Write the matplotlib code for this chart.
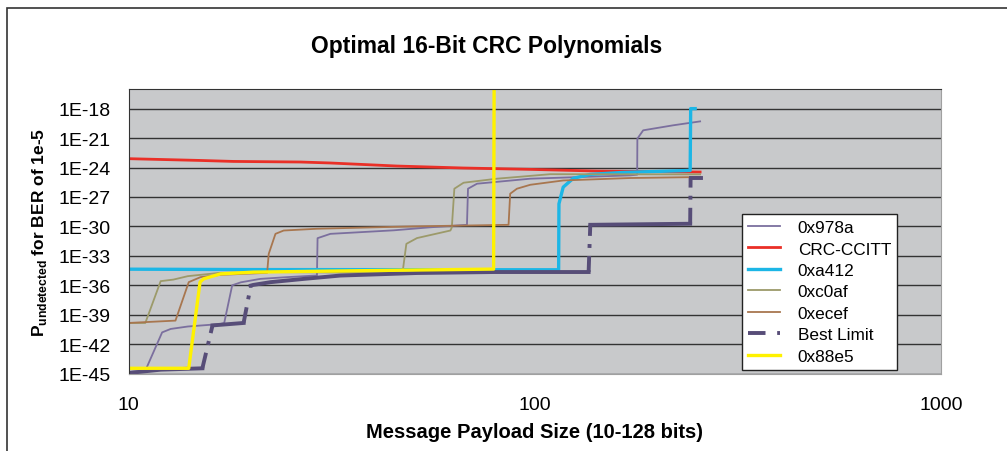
import numpy as np
import matplotlib
matplotlib.use("Agg")
import matplotlib.pyplot as plt
from matplotlib.lines import Line2D
from matplotlib.patches import Rectangle

plt.rcParams['font.family'] = ['Liberation Sans', 'DejaVu Sans']
plt.rcParams['mathtext.fontset'] = 'custom'
plt.rcParams['mathtext.rm'] = 'Liberation Sans'
plt.rcParams['mathtext.bf'] = 'Liberation Sans:bold'

# payload size (bits) and log10 of P_undetected
p978a_x = [10, 11.0, 12.1, 12.7, 14.0, 16.8, 17.2, 18.0, 18.9, 21.1, 24.6, 29.1, 29.2, 31.4,
           45, 55, 68.1, 68.5, 72.1, 97.5, 171.8, 178.7, 178.9, 184.9, 219.1, 255.3]
p978a_e = [-44.84, -44.7, -40.8, -40.45, -40.2, -39.95, -39.85, -36.0, -35.7, -35.35, -35.17, -35.0,
           -31.2, -30.76, -30.4, -30.1, -29.84, -26.16, -25.65, -25.14, -24.8, -24.73, -21.06,
           -20.21, -19.7, -19.3]

ccitt_x = [10, 15.0, 18.1, 26.5, 31.4, 45.8, 66.7, 97.5, 142.2, 255.3]
ccitt_e = [-23.1, -23.28, -23.38, -23.44, -23.54, -23.85, -24.05, -24.19, -24.36, -24.46]

a412_x = [10, 20, 114.5, 114.7, 117.5, 124.4, 137.0, 165.1, 241.3, 242.0, 248.2]
a412_e = [-34.36, -34.4, -34.42, -27.7, -26.0, -25.1, -24.7, -24.5, -24.3, -18.0, -18.0]

c0af_x = [10, 11.0, 12.0, 12.9, 14.0, 16.8, 21.9, 44.9, 47.4, 48.3, 51.3, 62.0, 62.5, 63.4,
          66.8, 80.7, 109.2, 255.3]
c0af_e = [-39.84, -39.84, -35.58, -35.42, -35.07, -34.73, -34.65, -34.75, -34.33, -31.78,
          -31.19, -30.42, -30.1, -26.16, -25.55, -25.14, -24.68, -24.7]

ecef_x = [10, 13.05, 14.07, 15.04, 16.84, 21.94, 22.14, 23.0, 24.1, 29.1, 50, 86.2, 87.0,
          90.4, 97.5, 117.5, 171.8, 255.3]
ecef_e = [-39.84, -39.6, -35.68, -35.17, -34.94, -34.73, -32.8, -30.76, -30.42, -30.24, -30.0,
          -29.84, -26.67, -26.16, -25.76, -25.32, -25.07, -24.97]

best_x = [10, 12.0, 15.2, 16.1, 19.2, 20.0, 20.3, 22.4, 27.0, 33.2, 51.3, 79.2, 135.7, 137.0,
          241.3, 241.9, 256.8]
best_e = [-44.94, -44.6, -44.46, -40.09, -39.84, -36.03, -35.96, -35.68, -35.35, -35.01,
          -34.75, -34.65, -34.65, -29.84, -29.73, -25.04, -25.04]

p88e5_x = [10, 14.07, 15.0, 15.3, 16.84, 20.3, 40, 79.2, 79.5]
p88e5_e = [-44.46, -44.46, -35.68, -35.35, -34.84, -34.66, -34.5, -34.35, -10]

ytick_exp = [-45, -42, -39, -36, -33, -30, -27, -24, -21, -18]
xticks = [10, 100, 1000]

fig = plt.figure(figsize=(10.07, 4.52), dpi=100)
ax = fig.add_axes([128.5 / 1007, 1 - 374.6 / 452, 812.5 / 1007, 284.6 / 452])
ax.set_facecolor('#c8c9cb')
ax.set_xscale('log')
ax.set_yscale('log')
ax.set_xlim(10, 1000)
ax.set_ylim(1e-45, 1e-16)

handles = []
series = [(p978a_x, p978a_e, '#7b6f9e', 1.3, '0x978a'),
          (ccitt_x, ccitt_e, '#ea2f27', 2.0, 'CRC-CCITT'),
          (a412_x, a412_e, '#1cb6e6', 2.4, '0xa412'),
          (c0af_x, c0af_e, '#9c9a6a', 1.3, '0xc0af'),
          (ecef_x, ecef_e, '#a8764f', 1.3, '0xecef')]
for xs, es, col, lw, lab in series:
    h, = ax.plot(xs, 10.0 ** np.array(es), color=col, lw=lw, label=lab)
    handles.append(h)

# Best limit: dashes show on the jumps only, like the original spreadsheet chart
best_col = '#574d78'
best_lw = 2.8
dash = (0, (4.1, 2.1, 1, 2.1))
bx = np.array(best_x)
be = np.array(best_e)
jump = np.abs(np.diff(be)) > 1.5
start = 0
for i in range(len(bx) - 1):
    if jump[i]:
        if i > start:
            ax.plot(bx[start:i + 1], 10.0 ** be[start:i + 1], color=best_col, lw=best_lw,
                    solid_capstyle='projecting')
        ax.plot(bx[i:i + 2], 10.0 ** be[i:i + 2], color=best_col, lw=best_lw,
                linestyle=dash, dash_capstyle='butt')
        start = i + 1
if start < len(bx) - 1:
    ax.plot(bx[start:], 10.0 ** be[start:], color=best_col, lw=best_lw,
            solid_capstyle='projecting')
handles.append(Line2D([], [], color=best_col, lw=best_lw, linestyle=(0, (4.5, 3.0, 1.3, 3.0)),
                      dash_capstyle='butt', label='Best Limit'))

h, = ax.plot(p88e5_x, 10.0 ** np.array(p88e5_e), color='#fff200', lw=2.4, label='0x88e5')
handles.append(h)

ax.set_yticks([10.0 ** e for e in ytick_exp])
ax.set_yticklabels(['1E%d' % e for e in ytick_exp])
ax.set_xticks(xticks)
ax.set_xticklabels([str(t) for t in xticks])
ax.yaxis.set_minor_locator(matplotlib.ticker.NullLocator())
ax.xaxis.set_minor_locator(matplotlib.ticker.NullLocator())
ax.tick_params(axis='y', length=0, pad=13, labelsize=14)
ax.tick_params(axis='x', length=0, pad=16, labelsize=14)
ax.grid(axis='y', color='#333333', lw=1)
ax.set_axisbelow(True)
for s in ['left', 'top']:
    ax.spines[s].set_color('#333333')
for s in ['right', 'bottom']:
    ax.spines[s].set_color('#a0a0a0')

ax.set_xlabel('Message Payload Size (10-128 bits)', fontsize=14.5, fontweight='bold')
ax.xaxis.set_label_coords(0.5, -0.17)
ax.set_ylabel(r'P$_{\mathbf{undetected}}$ for BER of 1e-5', fontsize=12.5, fontweight='bold')
ax.yaxis.set_label_coords(-0.098, 0.5)

fig.text(487 / 1007, 1 - 47 / 452, 'Optimal 16-Bit CRC Polynomials', ha='center', va='center',
         fontsize=16.5, fontweight='bold')

leg = ax.legend(handles=handles, loc='upper left', bbox_to_anchor=(741.7 / 1007, 1 - 215 / 452),
                bbox_transform=fig.transFigure, fontsize=12.4, frameon=True, fancybox=False,
                edgecolor='#222222', framealpha=1, handlelength=1.9, handletextpad=1.0,
                labelspacing=0.37, borderpad=0.35, borderaxespad=0)
leg.get_frame().set_linewidth(1.0)

fig.patches.append(Rectangle((7 / 1007, -0.1), 1.2, 1.1 - 9 / 452, transform=fig.transFigure,
                             fill=False, edgecolor='#333333', lw=1.2))

fig.savefig('out.png', dpi=100)
